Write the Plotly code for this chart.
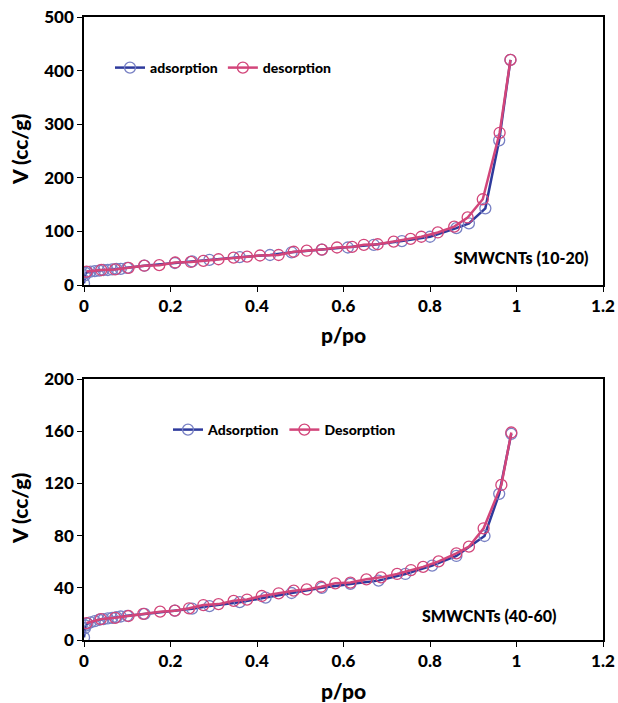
import plotly.graph_objects as go

# ---------- Data: SMWCNTs (10-20) ----------
ads1_x = [0.0, 0.002, 0.004, 0.008, 0.015, 0.025, 0.035, 0.045, 0.055, 0.065, 0.075, 0.085, 0.1,
          0.14, 0.21, 0.25, 0.29, 0.36, 0.43, 0.48, 0.55, 0.61, 0.67, 0.735, 0.80, 0.861, 0.89,
          0.928, 0.96, 0.986]
ads1_y = [3, 18, 22, 24, 25, 26, 27, 28, 28, 29, 30, 30, 32,
          36, 41, 44, 47, 52, 56, 61, 66, 70, 75, 82, 90, 106, 115,
          143, 270, 420]
des1_x = [0.006, 0.04, 0.072, 0.103, 0.139, 0.174, 0.211, 0.247, 0.276, 0.311, 0.346, 0.377,
          0.407, 0.45, 0.485, 0.515, 0.55, 0.585, 0.62, 0.647, 0.679, 0.716, 0.755, 0.78,
          0.818, 0.856, 0.887, 0.922, 0.961, 0.986]
des1_y = [25, 28, 29, 32, 36, 37, 42, 43, 45, 48, 51, 53,
          55, 56, 62, 64, 66, 70, 71, 75, 76, 81, 86, 90,
          98, 109, 126, 160, 284, 420]

# ---------- Data: SMWCNTs (40-60) ----------
ads2_x = [0.0, 0.002, 0.004, 0.008, 0.015, 0.025, 0.035, 0.045, 0.055, 0.065, 0.075, 0.085, 0.1,
          0.14, 0.21, 0.25, 0.29, 0.36, 0.42, 0.48, 0.55, 0.616, 0.681, 0.743, 0.805, 0.861,
          0.926, 0.96, 0.988]
ads2_y = [2, 9, 11, 12.5, 13.5, 14.5, 15.5, 16, 16.5, 17, 17.5, 18, 18.5,
          20, 22.5, 24, 26, 29, 32.5, 36, 40, 43, 45.5, 50.6, 57, 64.4,
          79.7, 112, 158]
des2_x = [0.006, 0.039, 0.072, 0.103, 0.137, 0.176, 0.21, 0.243, 0.276, 0.311, 0.346, 0.377,
          0.411, 0.45, 0.485, 0.515, 0.548, 0.581, 0.616, 0.653, 0.687, 0.724, 0.756, 0.784,
          0.82, 0.861, 0.89, 0.924, 0.965, 0.988]
des2_y = [13, 16, 17, 18.4, 20, 21.7, 22.5, 24.3, 26.8, 27.5, 30, 31,
          33.7, 35.8, 37.8, 38.8, 40.8, 43.4, 44, 46.5, 48, 50.6, 53.6, 56,
          60.3, 66.4, 71.5, 85.6, 118.8, 159]

x_ticks = [0, 0.2, 0.4, 0.6, 0.8, 1, 1.2]
x_tick_text = ["0", "0.2", "0.4", "0.6", "0.8", "1", "1.2"]
y1_ticks = [0, 100, 200, 300, 400, 500]
y2_ticks = [0, 40, 80, 120, 160, 200]

BLUE_LINE = "#2e3a9c"
BLUE_MARK = "#7880c4"
RED_LINE = "#d2457a"
RED_MARK = "#d2457a"
FONT = "Lato"

W, H = 618, 703
xl, xr = 84 / W, 603 / W
top_dom = [(H - 285) / H, (H - 17) / H]
bot_dom = [(H - 640) / H, (H - 379) / H]

fig = go.Figure()

def add(x, y, name, lc, mc, xa, ya, leg):
    fig.add_trace(go.Scatter(
        x=x, y=y, name=name, mode="lines+markers",
        line=dict(color=lc, width=2.5),
        marker=dict(symbol="circle-open", size=11, color=mc, line=dict(width=1.3, color=mc)),
        xaxis=xa, yaxis=ya, legend=leg))

add(ads1_x, ads1_y, "adsorption", BLUE_LINE, BLUE_MARK, "x", "y", "legend")
add(des1_x, des1_y, "desorption", RED_LINE, RED_MARK, "x", "y", "legend")
add(ads2_x, ads2_y, "Adsorption", BLUE_LINE, BLUE_MARK, "x2", "y2", "legend2")
add(des2_x, des2_y, "Desorption", RED_LINE, RED_MARK, "x2", "y2", "legend2")

tickfont = dict(family=FONT, size=17, color="black", weight=900)

def xaxis(anchor):
    return dict(domain=[xl, xr], anchor=anchor, range=[0, 1.2], tickvals=x_ticks,
                ticktext=x_tick_text, showgrid=False, zeroline=False, automargin=False,
                showline=True, linecolor="black", linewidth=1.5, mirror=True,
                ticks="outside", ticklen=5, tickcolor="black", tickwidth=1.2,
                tickfont=tickfont)

def yaxis(anchor, dom, rng, tv):
    return dict(domain=dom, anchor=anchor, range=rng, tickvals=tv, showgrid=False,
                zeroline=False, showline=True, linecolor="black", linewidth=1.5, mirror=True,
                ticks="outside", ticklen=5, tickcolor="black", tickwidth=1.2, automargin=False,
                tickfont=tickfont)

legfont = dict(family=FONT, size=14, color="black", weight=900)

fig.update_layout(
    width=W, height=H, margin=dict(l=0, r=0, t=0, b=0, autoexpand=False),
    paper_bgcolor="white", plot_bgcolor="white",
    xaxis=xaxis("y"),
    yaxis=yaxis("x", top_dom, [0, 500], y1_ticks),
    xaxis2=xaxis("y2"),
    yaxis2=yaxis("x2", bot_dom, [0, 200], y2_ticks),
    legend=dict(x=110 / W, y=(H - 68) / H, xanchor="left", yanchor="middle",
                orientation="h", font=legfont, bgcolor="rgba(0,0,0,0)",
                itemwidth=30, tracegroupgap=0),
    legend2=dict(x=168 / W, y=(H - 430) / H, xanchor="left", yanchor="middle",
                 orientation="h", font=legfont, bgcolor="rgba(0,0,0,0)",
                 itemwidth=30, tracegroupgap=0),
    annotations=[
        dict(text="SMWCNTs (10-20)", x=590 / W, y=(H - 257) / H, xref="paper", yref="paper",
             xanchor="right", yanchor="middle", showarrow=False,
             font=dict(family=FONT, size=16, color="black", weight=900)),
        dict(text="SMWCNTs (40-60)", x=558 / W, y=(H - 615) / H, xref="paper", yref="paper",
             xanchor="right", yanchor="middle", showarrow=False,
             font=dict(family=FONT, size=16, color="black", weight=900)),
        dict(text="p/po", x=343 / W, y=(H - 334) / H, xref="paper", yref="paper",
             xanchor="center", yanchor="middle", showarrow=False,
             font=dict(family=FONT, size=21, color="black", weight=900)),
        dict(text="p/po", x=343 / W, y=(H - 690) / H, xref="paper", yref="paper",
             xanchor="center", yanchor="middle", showarrow=False,
             font=dict(family=FONT, size=21, color="black", weight=900)),
        dict(text="V (cc/g)", x=19 / W, y=(H - 150) / H, xref="paper", yref="paper",
             xanchor="center", yanchor="middle", showarrow=False, textangle=-90,
             font=dict(family=FONT, size=21, color="black", weight=900)),
        dict(text="V (cc/g)", x=19 / W, y=(H - 509) / H, xref="paper", yref="paper",
             xanchor="center", yanchor="middle", showarrow=False, textangle=-90,
             font=dict(family=FONT, size=21, color="black", weight=900)),
    ],
)

fig.write_html("out.html", config={"displayModeBar": False},
               post_script="document.body.style.margin='0';document.body.style.overflow='hidden';")
